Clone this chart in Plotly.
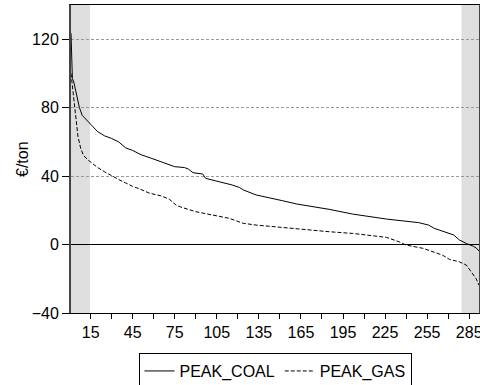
import plotly.graph_objects as go

# Sampled readings (observation index, value in €/ton)
coal_x = [1, 2, 3, 5, 7, 9, 12, 15, 20, 25, 30, 35, 40, 45, 51, 58, 65, 75, 82, 85, 88, 95, 97,
          107, 116, 121, 124, 133, 143, 152, 162, 174, 185, 202, 226, 249, 256, 260, 271, 274,
          278, 283, 288, 290, 292]
coal_y = [123.5, 97, 95, 86.5, 80, 75.5, 73, 70.5, 66, 63.5, 62, 60, 56.5, 55, 52.5, 50.5, 48.5,
          45.5, 45, 44, 42, 41.2, 38.7, 36.7, 34.8, 33.4, 31.9, 29, 27, 25.6, 23.7, 22.1, 20.6,
          17.8, 14.9, 12.8, 11.4, 9.5, 6.5, 5.6, 2.7, 0.6, -1, -2, -3.8]

gas_x = [1, 2, 4, 6, 8, 10, 13, 16, 20, 25, 30, 35, 40, 45, 50, 57, 65, 71, 76, 79, 90, 102,
         114, 120, 124, 133, 150, 169, 185, 202, 226, 235, 240, 252, 259, 266, 271, 278, 283,
         287, 290, 292]
gas_y = [100, 92, 77, 63, 56, 52, 49.5, 47.5, 45, 42.5, 40, 38, 36, 34, 32.5, 30, 28.5, 26.6,
         23, 22, 19.2, 17.3, 15.3, 13.5, 12.4, 11.4, 10.1, 8.5, 7.5, 6.5, 4.2, 1.6, -0.3, -2.2,
         -4.2, -6.2, -8.7, -10.1, -12, -16.8, -20, -23.8]

shade_start = [1, 279.5]
shade_end = [14.5, 292]

x_tickvals = [15, 45, 75, 105, 135, 165, 195, 225, 255, 285]
y_tickvals = [-40, 0, 40, 80, 120]

FONT = "Liberation Sans, Arial, sans-serif"

fig = go.Figure()
fig.add_trace(go.Scatter(x=coal_x, y=coal_y, mode="lines", name="PEAK_COAL",
                         line=dict(color="black", width=1)))
fig.add_trace(go.Scatter(x=gas_x, y=gas_y, mode="lines", name="PEAK_GAS",
                         line=dict(color="black", width=1, dash="4px,2px")))

for s, e in zip(shade_start, shade_end):
    fig.add_shape(type="rect", xref="x", yref="paper", x0=s, x1=e, y0=0, y1=1,
                  fillcolor="#dedede", line=dict(width=0), layer="below")

fig.add_annotation(text="€/ton", xref="paper", yref="paper", x=0, y=0.5,
                   xanchor="center", yanchor="middle", xshift=-49, textangle=-90,
                   showarrow=False, font=dict(size=16))

fig.update_layout(
    width=480, height=385,
    margin=dict(l=71, r=1, t=5, b=72, autoexpand=False),
    paper_bgcolor="white", plot_bgcolor="white",
    font=dict(family=FONT, size=16, color="black"),
    showlegend=True,
    legend=dict(orientation="h", x=0.5, xanchor="center", y=-0.13, yanchor="top",
                bordercolor="black", borderwidth=1, font=dict(size=16),
                itemwidth=30, tracegroupgap=0),
)
fig.update_xaxes(range=[1, 292], tickvals=x_tickvals, ticks="outside", ticklen=5,
                 tickcolor="black", showgrid=False, zeroline=False, automargin=False,
                 ticklabeloverflow="allow",
                 showline=True, linecolor="black", linewidth=1, mirror=True,
                 minor=dict(dtick=15, tick0=0, ticks="outside", ticklen=5, tickcolor="black",
                            showgrid=False),
                 tickfont=dict(size=16))
fig.update_yaxes(range=[-40, 140], tickvals=y_tickvals, ticks="outside", ticklen=7,
                 tickcolor="black", showgrid=True, gridcolor="#999999", griddash="3px,2px",
                 gridwidth=1, zeroline=True, zerolinecolor="black", zerolinewidth=1,
                 showline=True, linecolor="#444444", linewidth=2, mirror=True, automargin=False,
                 tickfont=dict(size=16))

fig.write_html("out.html", config={"displayModeBar": False},
               post_script="document.body.style.margin='0';")
